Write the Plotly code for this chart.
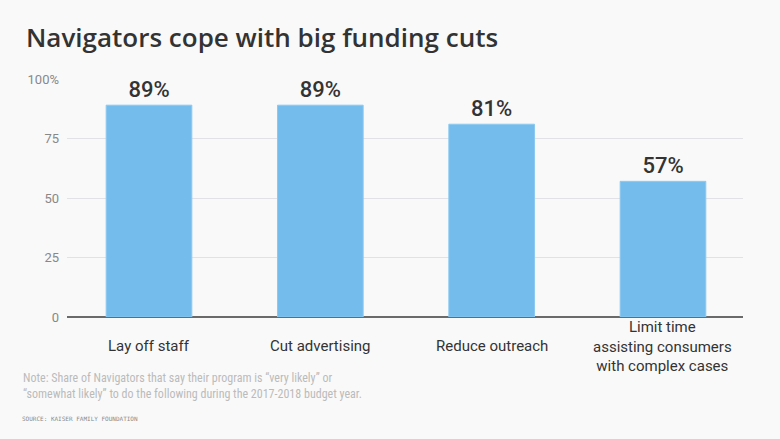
import plotly.graph_objects as go

categories = ["Lay off staff", "Cut advertising", "Reduce outreach",
              "Limit time<br>assisting consumers<br>with complex cases"]
values = [89, 89, 81, 57]
value_labels = ["89%", "89%", "81%", "57%"]
y_tickvals = [0, 25, 50, 75, 100]
y_ticktext = ["0", "25", "50", "75", "100%"]

title = "Navigators cope with big funding cuts"
note = ("Note: Share of Navigators that say their program is \u201cvery likely\u201d or<br>"
        "\u201csomewhat likely\u201d to do the following during the 2017-2018 budget year.")
source = "SOURCE: KAISER FAMILY FOUNDATION"

BG = "#f9f9f9"
W, H = 780, 439
ML, MR, MT, MB = 67, 37, 79, 122
xs = list(range(len(categories)))

fig = go.Figure()
fig.add_trace(go.Bar(
    x=xs, y=values, width=0.5,
    marker=dict(color="#74bcec", line=dict(color="#8cc9f0", width=1)),
    text=value_labels, textposition="outside", cliponaxis=False,
    textfont=dict(family="Roboto", size=22, color="#333333", weight=500),
    hoverinfo="skip",
))

# category labels, each centred vertically on the same row below the baseline
for x, c in zip(xs, categories):
    fig.add_annotation(x=x, y=0, xref="x", yref="y", yshift=-29,
                       text=c, showarrow=False, yanchor="middle", xanchor="center",
                       align="center",
                       font=dict(family="Roboto", size=15, color="#333333"))

plot_h = H - MT - MB
plot_w = W - ML - MR
def py(pix):  # pixel y from top -> paper coordinate
    return (H - MB - pix) / plot_h
def px(pix):
    return (pix - ML) / plot_w

fig.add_annotation(x=px(21), y=py(369), xref="paper", yref="paper", text=note,
                   showarrow=False, xanchor="left", yanchor="top", align="left",
                   font=dict(family="Liberation Sans Narrow, Roboto Condensed, sans-serif",
                             size=12, color="#bbbbbb"))
fig.add_annotation(x=px(20), y=py(418), xref="paper", yref="paper", text=source,
                   showarrow=False, xanchor="left", yanchor="middle", align="left",
                   font=dict(family="DejaVu Sans Mono, monospace", size=6, color="#8a8a8a"))

fig.update_layout(
    width=W, height=H,
    paper_bgcolor=BG, plot_bgcolor=BG,
    margin=dict(l=ML, r=MR, t=MT, b=MB),
    showlegend=False,
    title=dict(text=title, x=26 / W, xanchor="left", y=1 - 38 / H, yanchor="middle",
               font=dict(family="Open Sans", size=26, color="#333333", weight=600)),
    xaxis=dict(range=[-0.4786, 3.467], showticklabels=False, showgrid=False,
               zeroline=False, showline=False, fixedrange=True),
    yaxis=dict(range=[0, 100], tickvals=y_tickvals, ticktext=y_ticktext,
               showgrid=True, gridcolor="#e2e2e6", gridwidth=1,
               zeroline=True, zerolinecolor="#6a6a6a", zerolinewidth=1.5,
               tickfont=dict(family="Liberation Sans Narrow, Roboto", size=13, color="#888888"),
               ticks="", ticklabelstandoff=7, showline=False, fixedrange=True),
)

fig.write_html("out.html", config={"displayModeBar": False},
               post_script="document.body.style.margin='0';document.body.style.padding='0';")
